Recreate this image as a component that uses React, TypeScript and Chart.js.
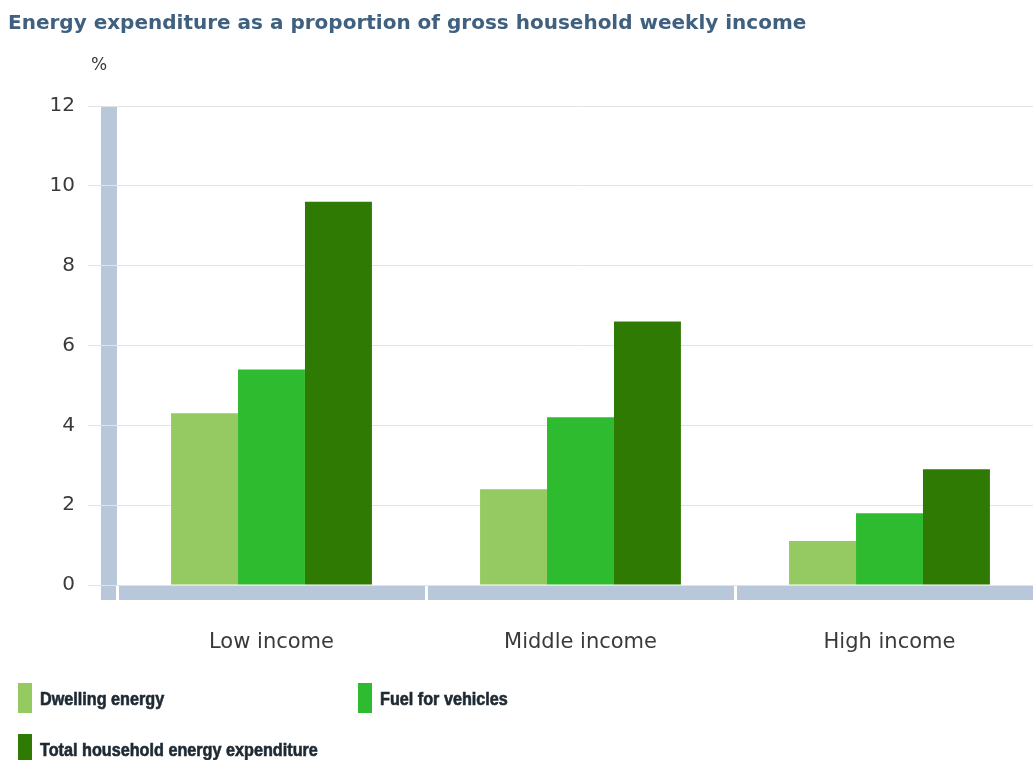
import React, { useEffect, useRef } from "react";
import { Chart, registerables } from "chart.js";

Chart.register(...registerables);

const TITLE = "Energy expenditure as a proportion of gross household weekly income";
const UNIT = "%";
const categories = ["Low income", "Middle income", "High income"];
const dwellingEnergy = [4.3, 2.4, 1.1];
const fuelForVehicles = [5.4, 4.2, 1.8];
const totalEnergy = [9.6, 6.6, 2.9];
const seriesNames = ["Dwelling energy", "Fuel for vehicles", "Total household energy expenditure"];
const seriesColors = ["#95c962", "#2fbb2f", "#2e7a03"];
const yMin = 0;
const yMax = 12;
const yStep = 2;

const BAND = "#b9c7da";
const AXIS_FONT = "'DejaVu Sans', Verdana, sans-serif";
const LEGEND_FONT = "bold 18px 'Liberation Sans', Arial, sans-serif";
const LEGEND_SQUEEZE = 0.9;

const legendPos = [
  { x: 18, y: 683 },
  { x: 358, y: 683 },
  { x: 18, y: 734 },
];

const decor = {
  id: "decor",
  beforeDraw(chart: any) {
    const { ctx, chartArea: a } = chart;
    ctx.save();
    ctx.fillStyle = "#ffffff";
    ctx.fillRect(0, 0, chart.width, chart.height);
    ctx.fillStyle = BAND;
    ctx.fillRect(a.left - 16, a.top, 16, a.bottom + 15 - a.top);
    ctx.fillRect(a.left, a.bottom, a.right - a.left, 15);
    ctx.restore();
  },
  afterDraw(chart: any) {
    const { ctx } = chart;
    ctx.save();
    // title
    ctx.font = "bold 20px 'DejaVu Sans', Verdana, sans-serif";
    ctx.fillStyle = "#40607f";
    ctx.textAlign = "left";
    ctx.textBaseline = "alphabetic";
    ctx.fillText(TITLE, 8, 29);
    // unit
    ctx.font = "17px 'DejaVu Sans', Verdana, sans-serif";
    ctx.fillStyle = "#3a3a3a";
    ctx.textAlign = "center";
    ctx.fillText(UNIT, 99, 70);
    // legend
    ctx.textAlign = "left";
    ctx.font = LEGEND_FONT;
    chart.data.datasets.forEach((ds: any, i: number) => {
      const p = legendPos[i];
      ctx.fillStyle = ds.backgroundColor;
      ctx.fillRect(p.x, p.y, 14, 30);
      ctx.fillStyle = "#1e2a33";
      ctx.strokeStyle = "#1e2a33";
      ctx.lineWidth = 0.6;
      ctx.save();
      ctx.translate(p.x + 22, p.y + 22);
      ctx.scale(LEGEND_SQUEEZE, 1);
      ctx.fillText(ds.label, 0, 0);
      ctx.strokeText(ds.label, 0, 0);
      ctx.restore();
    });
    ctx.restore();
  },
};

export default function App() {
  const ref = useRef<HTMLCanvasElement | null>(null);

  useEffect(() => {
    if (!ref.current) return;
    const data = [dwellingEnergy, fuelForVehicles, totalEnergy];
    const chart = new Chart(ref.current, {
      type: "bar",
      data: {
        labels: categories,
        datasets: data.map((d, i) => ({
          label: seriesNames[i],
          data: d,
          backgroundColor: seriesColors[i],
          borderWidth: 0,
          barPercentage: 1,
          categoryPercentage: 0.65,
        })),
      },
      options: {
        responsive: false,
        animation: false,
        layout: { padding: { left: 0, top: 106, right: 1, bottom: 0 } },
        plugins: {
          legend: { display: false },
          title: { display: false },
          tooltip: { enabled: false },
        },
        scales: {
          x: {
            border: { display: false },
            grid: {
              display: true,
              drawOnChartArea: false,
              drawTicks: true,
              tickLength: 15,
              color: "#ffffff",
              lineWidth: 3,
            },
            ticks: {
              padding: 30,
              color: "#3a3a3a",
              font: { family: AXIS_FONT, size: 21 },
            },
            afterFit: (s: any) => {
              s.height = 175;
            },
          },
          y: {
            min: yMin,
            max: yMax,
            border: { display: false },
            grid: {
              color: "#e3e3e3",
              lineWidth: 1,
              tickLength: 29,
            },
            ticks: {
              stepSize: yStep,
              padding: 13,
              color: "#3a3a3a",
              font: { family: AXIS_FONT, size: 20 },
            },
            afterFit: (s: any) => {
              s.width = 117;
            },
          },
        },
      },
      plugins: [decor],
    });
    return () => chart.destroy();
  }, []);

  return (
    <div
      style={{
        position: "absolute",
        left: 0,
        top: 0,
        width: 1033,
        height: 760,
        overflow: "hidden",
        background: "#fff",
      }}
    >
      <canvas ref={ref} width={1045} height={760} style={{ display: "block" }} />
    </div>
  );
}
